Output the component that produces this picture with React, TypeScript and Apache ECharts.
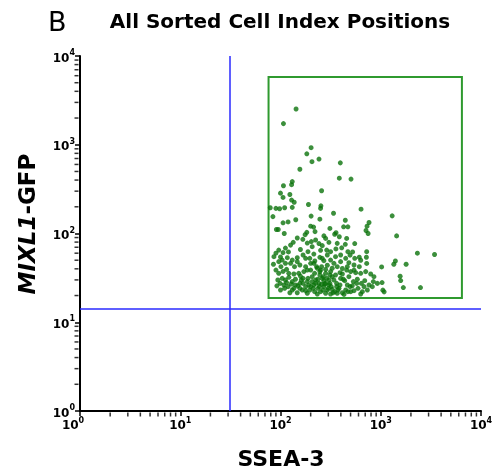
import React, { useEffect, useRef } from "react";
import * as echarts from "echarts";

// Axis decades (tick labels 10^0 .. 10^4)
const decades = [1, 10, 100, 1000, 10000];
const minorMultipliers = [2, 3, 4, 5, 6, 7, 8, 9];

// Quadrant thresholds and sort gate
const quadrantX = 31;
const quadrantY = 14.1;
const gateX = [76, 6450];
const gateY = [18.8, 5800];

// Sorted cell index positions: SSEA-3 (x) and MIXL1-GFP (y)
const ssea3Upper = [143, 107, 202, 183, 242, 206, 395, 156, 386, 505, 131, 129, 107, 257, 100, 124, 106, 137, 129, 190, 253, 251, 79, 90, 98, 110, 131, 636, 84, 202, 142, 338, 247, 1300, 443, 106, 119, 426, 470, 764, 730, 91, 95, 200, 214, 109, 183, 221, 176, 311, 358, 713, 748, 1440];
const mixl1Upper = [2530, 1730, 927, 790, 690, 645, 625, 530, 420, 410, 385, 355, 345, 303, 285, 275, 255, 225, 238, 212, 205, 192, 195, 192, 190, 195, 197, 188, 155, 157, 143, 169, 145, 158, 141, 132, 135, 119, 119, 133, 121, 111, 111, 121, 118, 100, 103, 105, 97, 114, 102, 108, 100, 94];

const ssea3Right = [2320, 3440, 1400, 1350, 1790, 1020, 1560, 1580, 1680, 2490, 1030, 1050, 1080];
const mixl1Right = [60, 58, 49, 45, 45, 42, 33, 29.5, 24.6, 24.6, 28, 23, 22];

const ssea3Mid = [147, 167, 203, 224, 271, 282, 347, 386, 457, 550, 443, 242, 261, 304, 185, 134, 112, 96, 90, 106, 120, 158, 188, 215, 251, 289, 316, 357, 408, 470, 524, 611, 724, 719, 724, 631, 550, 494];
const mixl1Mid = [89, 86, 81, 84.5, 94, 88, 98, 92, 88, 77, 75.5, 77, 73, 79.5, 78, 79.5, 68.5, 65, 60, 61, 62, 66, 62.4, 58.6, 64.6, 65, 62.4, 67, 69, 62.4, 62, 54, 62.4, 54, 46, 50, 52.5, 57];

const ssea3Low = [86, 85, 100, 117, 131, 147, 168, 196, 220, 247, 271, 316, 354, 398, 447, 481, 541, 611, 101, 115, 126, 138, 156, 178, 200, 233, 257, 293, 328, 368, 414, 457, 501, 562, 631, 708, 794, 855, 90, 96, 106];
const mixl1Low = [54.8, 45, 54.3, 53.4, 50.2, 53.4, 57.2, 52.5, 49, 53.9, 49.4, 50.2, 54.8, 48.2, 52.5, 46.9, 44.2, 42.3, 42.3, 39.4, 46.1, 42.3, 44.2, 42.3, 46.1, 40.6, 42.3, 43.9, 40.6, 42.3, 40.3, 38.7, 37.2, 36.2, 35.6, 37.2, 35, 32.6, 38.7, 35.6, 37.4];

const ssea3Base = [104, 112, 121, 131, 141, 156, 168, 185, 207, 224, 247, 261, 282, 304, 328, 363, 398, 437, 481, 533, 584, 641, 692, 764, 843, 926,
  108, 119, 128, 136, 149, 165, 178, 196, 215, 236, 251, 271, 293, 321, 347, 383, 414, 447, 494, 541, 593, 656, 735, 824,
  92, 124, 147, 185, 233, 282, 316, 368, 430, 501, 631, 100,
  207, 242, 282, 316, 354, 171, 152, 136, 121, 200, 392, 247, 219, 282, 267, 236, 257, 304, 271, 328, 363, 212, 192, 168];
const mixl1Base = [31.2, 29.9, 32.1, 28.7, 30.5, 27.4, 31.2, 28.7, 32.6, 29.9, 34.1, 31.2, 27.4, 29.9, 32.6, 27.4, 31.2, 29.4, 32.6, 28.7, 30.5, 27.4, 29.4, 26.3, 28.7, 27.4,
  26.3, 25.2, 27, 24.1, 25.7, 23.1, 25.2, 23.1, 26.3, 24.1, 22.1, 25.2, 23.1, 25.2, 22.1, 24.1, 21.5, 23.1, 25.2, 22.7, 24.1, 22.1, 23.1, 25.2,
  25.7, 21.5, 21.5, 21.2, 20.8, 21.2, 20.8, 21.2, 20.6, 22.1, 20.8, 23.1,
  28.7, 27.4, 35.6, 37.2, 34.1, 37.2, 35.6, 35, 35.6, 38.7, 36.2, 37.2, 35.6, 39.4, 32.6, 30.5, 26.7, 26.3, 29.2, 23.5, 25.2, 24.1, 26.3, 27.4];

const ssea3Dense = [94, 99, 110, 115, 131, 141, 156, 161, 178, 188, 200, 219, 224, 244, 264, 276, 289, 300, 311, 334, 341, 374, 392, 423, 464, 470, 520, 575, 681,
  251, 229, 185, 158, 311, 414, 464, 541, 112, 96, 147, 178, 215, 261, 341, 398, 293, 207, 368, 126, 104];
const mixl1Dense = [29.9, 27.4, 24.1, 28, 23.1, 26.3, 24.1, 29.9, 22.7, 31.2, 25.2, 22.1, 27.4, 25.2, 23.1, 27, 31.2, 24.1, 27.4, 21.5, 29.9, 23.1, 26.3, 30.5, 26.3, 22.1, 25.7, 27.4, 25.2,
  38.7, 42.3, 38.7, 33.1, 34.1, 35, 42.3, 38.7, 46.1, 48.2, 48.2, 52.5, 46.1, 52.5, 46.1, 57.2, 57.2, 71, 77.4, 74, 50.2];

const FONT = "'DejaVu Sans', 'Liberation Sans', Arial, sans-serif";

export default function App() {
  const ref = useRef<HTMLDivElement>(null);

  useEffect(() => {
    if (!ref.current) return;
    const chart = echarts.init(ref.current, null, { renderer: "svg" });

    const ssea3 = [...ssea3Upper, ...ssea3Right, ...ssea3Mid, ...ssea3Low, ...ssea3Base, ...ssea3Dense];
    const mixl1 = [...mixl1Upper, ...mixl1Right, ...mixl1Mid, ...mixl1Low, ...mixl1Base, ...mixl1Dense];
    const points = ssea3.map((x, i) => [x, mixl1[i]]);

    const minorVals: number[] = [];
    decades.slice(0, decades.length - 1).forEach((d) => minorMultipliers.forEach((m) => minorVals.push(m * d)));

    const labelFmt = (first: boolean) => (v: number) => {
      const e = Math.round(Math.log10(v));
      if (first && e === 0) return `{b|10}{s0|0}`;
      return `{b|10}{s|${e}}`;
    };
    const rich = {
      b: { fontSize: 12, fontWeight: "bold", fontFamily: FONT, color: "#000", lineHeight: 15, verticalAlign: "bottom" },
      s: { fontSize: 8, fontWeight: "bold", fontFamily: FONT, color: "#000", lineHeight: 8, verticalAlign: "top" },
      s0: { fontSize: 8, fontWeight: "bold", fontFamily: FONT, color: "#000", lineHeight: 8, verticalAlign: "top", padding: [0, 14, 0, 0] },
    };

    const axisCommon = {
      type: "log",
      logBase: 10,
      min: decades[0],
      max: decades[decades.length - 1],
      splitNumber: 4,
      splitLine: { show: false },
      axisLine: { show: true, onZero: false, lineStyle: { color: "#000", width: 2 } },
      axisTick: { show: true, inside: false, length: 5, lineStyle: { color: "#000", width: 1.5 } },
    };

    chart.setOption({
      animation: false,
      grid: { left: 80, right: 17, top: 56, bottom: 63, containLabel: false },
      xAxis: {
        ...axisCommon,
        axisLabel: { margin: 5, formatter: labelFmt(true), rich },
      },
      yAxis: {
        ...axisCommon,
        axisLabel: { margin: 5, formatter: labelFmt(false), rich },
      },
      graphic: [
        { type: "text", left: 48, top: 8, style: { text: "B", font: `normal 27px ${FONT}`, fill: "#000" } },
        { type: "text", x: 280, y: 21, style: { text: "All Sorted Cell Index Positions", font: `bold 20px ${FONT}`, fill: "#000", textAlign: "center", textVerticalAlign: "middle" } },
        { type: "text", x: 281, y: 458, style: { text: "SSEA-3", font: `bold 22px ${FONT}`, fill: "#000", textAlign: "center", textVerticalAlign: "middle" } },
        {
          type: "text", x: 27, y: 224, rotation: Math.PI / 2,
          style: {
            text: "{i|MIXL1}{n|-GFP}", textAlign: "center", textVerticalAlign: "middle",
            rich: {
              i: { font: `italic bold 23px ${FONT}`, fill: "#000" },
              n: { font: `bold 23px ${FONT}`, fill: "#000" },
            },
          },
        },
      ],
      series: [
        {
          type: "scatter",
          data: points,
          symbol: "circle",
          symbolSize: 5,
          itemStyle: { color: "#0b730b" },
          z: 5,
          markLine: {
            silent: true,
            symbol: ["none", "none"],
            label: { show: false },
            lineStyle: { color: "#2a2aff", width: 1.5, type: "solid" },
            data: [{ xAxis: quadrantX }, { yAxis: quadrantY }],
          },
          markArea: {
            silent: true,
            itemStyle: { color: "rgba(0,0,0,0)", borderColor: "#2f9a2f", borderWidth: 2 },
            data: [[{ coord: [gateX[0], gateY[0]] }, { coord: [gateX[1], gateY[1]] }]],
          },
        },
        {
          type: "scatter",
          data: minorVals.map((v) => [v, decades[0]]),
          symbol: "rect",
          symbolSize: [1.5, 4],
          symbolOffset: [0, 3.5],
          clip: false,
          silent: true,
          itemStyle: { color: "#000" },
          z: 6,
        },
        {
          type: "scatter",
          data: minorVals.map((v) => [decades[0], v]),
          symbol: "rect",
          symbolSize: [4, 1.5],
          symbolOffset: [-3.5, 0],
          clip: false,
          silent: true,
          itemStyle: { color: "#000" },
          z: 6,
        },
      ],
    });

    return () => chart.dispose();
  }, []);

  return <div ref={ref} style={{ position: "fixed", left: 0, top: 0, width: 498, height: 474 }} />;
}
